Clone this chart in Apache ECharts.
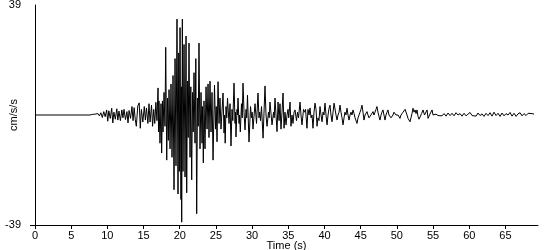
<!DOCTYPE html>
<html>
<head>
<meta charset="utf-8">
<script src="https://cdn.jsdelivr.net/npm/echarts@6/dist/echarts.min.js"></script>
<style>html,body{margin:0;padding:0;background:#fff}#c{width:550px;height:250px}</style>
</head>
<body>
<div id="c"></div>
<script>
// Time (s) of each read-off point of the trace
const timeS = [
0,7.6,7.9,8.1,8.3,8.5,8.7,8.9,9.1,9.3,9.5,9.7,9.9,10.05,10.2,10.4,10.6,10.75,10.9,11.1,11.3,11.45,11.6,11.8,12.0,12.15,12.3,12.5,12.7,12.85,13.0,13.2,13.4,13.55,13.7,13.85,14.0,14.2,14.4,14.55,14.7,14.9,15.1,15.25,15.4,15.6,15.75,15.9,16.1,16.25,16.4,16.55,16.7,16.85,
17.00,17.07,17.13,17.27,17.41,17.50,17.61,17.69,17.83,17.96,18.06,18.20,18.31,18.42,18.52,18.66,18.79,18.93,19.07,19.21,19.35,19.48,19.62,19.76,19.86,19.94,20.04,20.17,20.22,20.27,20.36,20.45,20.59,20.73,20.87,20.96,21.07,21.17,21.28,21.42,21.53,21.65,21.76,21.86,21.97,22.11,22.22,22.34,22.45,22.55,22.66,22.80,22.94,23.08,23.15,23.26,23.35,23.49,23.63,23.77,23.91,24.04,24.18,24.32,24.46,24.60,24.80,24.94,25.04,25.15,25.29,25.43,25.56,25.70,
25.98,26.12,26.19,26.28,26.39,26.50,26.60,26.81,26.95,27.08,27.22,27.33,27.50,27.64,27.71,27.77,27.91,27.98,28.05,28.19,28.26,28.37,28.53,28.63,28.74,28.88,29.02,29.16,29.25,29.36,29.57,29.78,29.91,30.01,30.12,30.40,30.61,30.81,30.95,31.05,31.16,31.30,31.51,31.78,31.92,32.06,32.26,32.36,32.47,32.75,32.96,33.05,33.16,33.44,33.58,33.72,33.85,33.99,34.13,34.27,34.41,34.54,34.68,34.82,34.96,35.06,35.24,35.37,35.51,35.65,35.79,35.93,36.13,36.27,36.41,36.62,36.75,36.89,37.10,37.24,37.38,37.58,37.72,37.86,38.00,
38.14,38.28,38.41,38.55,38.69,38.83,38.97,39.10,39.24,39.38,39.52,39.66,39.80,39.93,40.07,40.21,40.35,40.49,40.63,40.76,40.90,41.04,41.18,41.32,41.45,41.59,41.73,41.87,42.01,42.14,42.28,42.42,42.56,42.70,42.83,42.97,43.11,43.25,43.39,43.53,43.66,43.80,43.94,44.08,44.22,44.35,44.49,44.63,44.77,44.91,45.04,45.18,45.32,45.46,45.60,45.73,45.87,46.01,46.15,46.29,46.42,46.56,46.70,46.84,46.98,47.12,47.25,47.39,47.53,47.67,47.81,47.94,48.08,48.22,48.36,48.50,48.64,48.77,48.91,49.05,49.19,49.33,49.46,49.60,49.74,49.88,50.02,50.16,50.30,50.43,50.57,50.71,50.85,50.99,51.13,51.26,51.40,51.54,51.68,51.82,51.95,52.09,52.23,52.37,52.51,52.65,52.78,52.92,53.06,
53.20,53.41,53.61,53.82,53.96,54.17,54.31,54.51,54.72,54.86,55.00,55.13,55.41,55.69,55.96,56.24,56.52,56.79,57.07,57.35,57.62,57.90,58.17,58.45,58.73,59.00,59.28,59.56,59.83,60.11,60.39,60.66,60.94,61.21,61.49,61.77,62.04,62.32,62.60,62.87,63.15,63.42,63.70,63.98,64.25,64.53,64.81,65.08,65.36,65.64,65.91,66.19,66.47,66.74,67.02,67.30,67.57,67.85,68.13,68.40,68.68,68.96
];
// Acceleration (cm/s/s) at each of those times
const accel = [
0,0,0.2,-0.2,0.3,-0.4,0.5,-0.3,0.8,-0.9,1.2,-0.6,1.8,-2.2,1.5,-1.2,2.4,-2.8,1.0,-1.5,2.2,-1.8,1.4,-2.0,1.8,-1.0,2.0,-1.6,1.2,-2.8,1.6,-1.2,3.0,-2.0,2.6,-1.5,-4.0,3.2,4.3,-4.7,2.0,-2.5,3.0,-1.8,2.5,-3.0,4.0,-2.5,3.5,-4.0,2.0,-3.0,4.5,-2.0,
9.6,-6,5,-10,4,-13.5,5,-6,8,-4,24,-16,6,-9,9,-12,11,-15,14,-26.5,20,-18,34,-28,22,-20,31,-30,10,-38,34,-20,25,-22,28,-27.6,12,-8,25.5,-15,10,-23,8,-6,15,-10,20,-35,6,-4,25.5,-12,8,-10,3,-17,5,-12,10,-5,11,-8,12,-6,8,-16,10.6,-5,3,-9.5,11.8,-3,6,-5,
7.8,-6.4,0,-10,3,-1,6,-3,4,-11,2,-2,11.3,-3,1,-7.8,2,0,6,-3,0,-6,4,-1,11.3,1,-5.3,2,-1,7,-9.6,3,-1,1,-5,4,-3,7.8,-1,1,-2,3,-8.2,10.3,0,-4,1,-1,4.6,-3.5,1,-1,6,-5.9,4.6,-2,4,-5,1,7.8,-4.7,1,-3.5,0,2,-1,4.6,-4,0,-3,1,1.8,-2,1,-1,4.6,0,-3.5,2,1,2,-4.7,2,0,2.5,
-1,0,-4.7,1,4.2,2,-4,-1,-2,3,0,-2.4,1,0,4.2,0,-3.5,0,2.4,3.5,0,-2.4,1,4.2,3.5,0,-1.8,0,1,3.5,1,-1,-3.5,-1,1,0,2.4,0,-1.8,0,1,0,1.8,0.5,-1,-1,-3,-1,0,1,2,3.5,1,-1.8,0,0.5,1.2,0,-1,-1.2,0,0.5,1.2,0,1,2,3,1,-0.5,-1.8,0,1,1.8,0,-1.8,0,1,1.8,0,-0.5,-1,-1.2,0,1,1.2,0,-0.5,0,-0.5,-1.2,0,0.5,1,1.5,2,2.4,0,-1.2,-1,-2.4,-1,0.5,2.4,1,1.8,0.5,1.8,-0.5,-1.5,
-1.2,0.5,1.8,0,0.5,1.8,-1.2,0,0.5,1.8,0,-0.3,0.3,-0.2,0.4,-0.3,0.5,-0.4,0.7,-0.2,0.6,-0.3,0.8,0,0.5,-0.4,0.6,-0.3,0.3,0.9,-0.2,0.5,-0.4,0.7,-0.2,0.4,-0.5,0.6,-0.2,0.8,-0.4,1.0,-0.2,0.6,-0.5,0.7,-0.3,0.5,0,0.9,-0.4,0.6,-0.5,0.4,0.8,-0.3,0.5,-0.2,0.6,0,0.5,0.3
];
const xTickValues = [0,5,10,15,20,25,30,35,40,45,50,55,60,65];
const yTickValues = [-39, 39];
const xMax = 69.5;

const points = timeS.map((t, i) => [t, accel[i]]);
const font = '"Liberation Sans", Arial, sans-serif';

const chart = echarts.init(document.getElementById('c'), null, {renderer: 'canvas'});
chart.setOption({
  animation: false,
  backgroundColor: '#fff',
  grid: {left: 35, right: 12, top: 5, bottom: 25, containLabel: false, outerBoundsMode: 'none'},
  xAxis: {
    type: 'value', min: 0, max: xMax,
    name: 'Time (s)', nameLocation: 'middle', nameGap: 15, nameMoveOverlap: false,
    nameTextStyle: {color: '#000', fontFamily: font, fontSize: 11, verticalAlign: 'top'},
    axisLine: {onZero: false, lineStyle: {color: '#000', width: 1}},
    axisTick: {show: true, length: 4, customValues: xTickValues, lineStyle: {color: '#000'}},
    axisLabel: {customValues: xTickValues, color: '#000', fontFamily: font, fontSize: 11, margin: 5},
    splitLine: {show: false}
  },
  yAxis: {
    type: 'value', min: yTickValues[0], max: yTickValues[1],
    name: 'cm/s/s', nameLocation: 'middle', nameGap: 16, nameMoveOverlap: false,
    nameTextStyle: {color: '#000', fontFamily: font, fontSize: 11},
    axisLine: {show: true, lineStyle: {color: '#000', width: 1}},
    axisTick: {show: true, length: 5, customValues: [yTickValues[0]], lineStyle: {color: '#000'}},
    axisLabel: {customValues: yTickValues, color: '#000', fontFamily: font, fontSize: 11, margin: 14},
    splitLine: {show: false}
  },
  series: [{
    type: 'line', data: points, showSymbol: false, symbol: 'none',
    sampling: null, smooth: false,
    lineStyle: {color: '#000', width: 1}
  }]
});
</script>
</body>
</html>
